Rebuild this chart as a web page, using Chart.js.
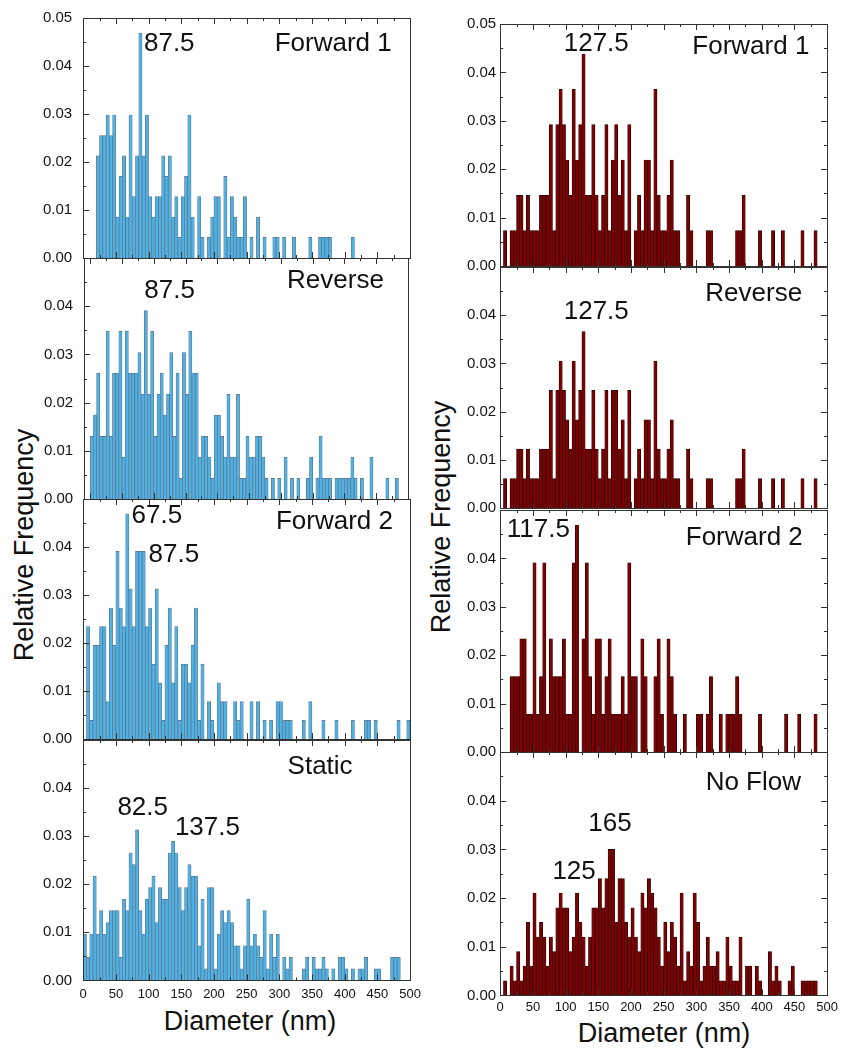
<!DOCTYPE html>
<html>
<head>
<meta charset="utf-8">
<script src="https://cdn.jsdelivr.net/npm/chart.js@4.4.1/dist/chart.umd.min.js"></script>
<style>
body { margin: 0; background: #fff; }
#page { position: relative; width: 843px; height: 1049px; overflow: hidden; font-family: 'Liberation Sans', Arial, sans-serif; color: #111; }
#page canvas { position: absolute; }
.title { position: absolute; font-size: 27px; white-space: nowrap; transform: translate(-50%, -50%); }
.ytitle { transform: translate(-50%, -50%) rotate(-90deg); }
</style>
</head>
<body>
<div id="page">
  <div class="title ytitle" style="left:24px; top:545px;">Relative Frequency</div>
  <div class="title ytitle" style="left:441px; top:517px;">Relative Frequency</div>
  <div class="title" style="left:250px; top:1021px;">Diameter (nm)</div>
  <div class="title" style="left:664px; top:1033px;">Diameter (nm)</div>
</div>
<script>
// 5 nm bins, 0-500 nm (bin centres)
var diameterBins = [];
for (var i = 0; i < 100; i++) diameterBins.push(i * 5 + 2.5);

var xTickLabels = [0, 50, 100, 150, 200, 250, 300, 350, 400, 450, 500];
var yTickLabels = ['0.00', '0.01', '0.02', '0.03', '0.04', '0.05'];

// relative frequency per bin
var leftForward1 = [
  0, 0, 0, 0, .0213, .0255, .0255, .0298, .0255, .0298,
  .0085, .017, .0213, .0085, .0298, .0128, .0213, .0468, .0213, .0298,
  .0128, .0085, .0128, .0128, .0213, .017, .0213, .0085, .0128, .0043,
  .0128, .017, .0298, .0085, 0, .0128, .0043, 0, .0043, .0085,
  .0128, .0128, 0, .017, .0043, .0128, .0085, .0043, .0043, .0128,
  0, .0043, 0, .0085, 0, .0043, 0, 0, .0043, .0043,
  0, .0043, 0, 0, .0043, 0, 0, 0, 0, .0043,
  0, 0, .0043, .0043, .0043, .0043, 0, 0, 0, 0,
  0, 0, .0043, 0, 0, 0, 0, 0, 0, 0,
  0, 0, 0, 0, 0, 0, 0, 0, 0, 0
];
var leftReverse = [
  .013, .0174, .0261, .013, .013, .0348, .013, .0261, .0261, .0348,
  .0087, .0348, .0261, .0261, .0261, .0304, .0217, .0391, .0217, .0348,
  .013, .0217, .0261, .0174, .0217, .0304, .013, .0261, .0043, .0304,
  .0217, .0348, .0261, .0261, .0087, .013, .013, .0087, .0043, .0174,
  .0174, .013, .0087, .0217, .0087, .0087, .0217, .0043, .0043, .013,
  .0087, .0087, .013, .013, .0087, .0043, 0, .0043, 0, .0043,
  0, .0087, 0, .0043, 0, .0043, 0, 0, .0043, .0087,
  0, .0043, .013, .0043, .0043, .0043, 0, .0043, .0043, .0043,
  .0043, .0043, .0087, .0043, 0, .0043, 0, 0, .0087, 0,
  0, 0, 0, .0043, 0, 0, .0043, 0, 0, 0
];
var leftForward2 = [
  0, .0234, .0039, .0195, .0195, .0234, .0234, .0078, .0273, .0195,
  .0391, .0273, .0234, .0469, .0313, .0234, .0391, .0391, .0391, .0234,
  .0273, .0156, .0313, .0117, .0039, .0195, .0273, .0117, .0234, .0039,
  .0156, .0156, .0117, .0195, .0273, .0039, .0156, 0, .0078, .0039,
  0, .0117, .0078, .0078, 0, 0, .0078, .0039, .0078, 0,
  0, .0078, 0, .0078, 0, .0039, 0, .0039, 0, .0078,
  .0078, .0039, .0039, .0039, 0, 0, 0, .0039, 0, .0078,
  0, 0, 0, .0039, 0, 0, 0, .0039, 0, 0,
  0, 0, .0039, 0, 0, 0, .0039, .0039, 0, .0039,
  0, 0, 0, 0, 0, 0, .0039, 0, 0, .0039
];
var leftStatic = [
  .0096, .0048, .0096, .0217, .0096, .0145, .0096, .012, .0145, .0145,
  .0145, .0048, .0169, .0145, .0265, .0241, .0313, .0145, .0096, .0169,
  .0193, .0217, .012, .0193, .0169, .0169, .0265, .0289, .0265, .0193,
  .0145, .0193, .0241, .0217, .0217, .0072, .0169, .0024, .0193, .0193,
  .0024, .0096, .0145, .012, .0145, .012, .0072, .0072, .0024, .0072,
  .0169, .0072, .0096, .0072, .0048, .0145, .0024, .0096, .0048, .0096,
  0, .0048, .0024, .0048, 0, 0, 0, .0024, .0048, 0,
  .0048, .0024, .0024, .0048, .0024, 0, .0024, 0, .0048, .0048,
  .0024, 0, .0024, 0, .0024, .0024, .0048, 0, 0, .0024,
  .0024, 0, 0, 0, .0048, .0048, .0048, 0, 0, 0
];
var rightForward1 = [
  0, .0073, 0, .0073, .0073, .0146, .0146, .0073, .0146, .0073,
  .0073, .0073, .0146, .0146, .0146, .0292, .0073, .0292, .0365, .0292,
  .0219, .0146, .0365, .0219, .0292, .0438, .0146, .0146, .0292, .0146,
  .0073, .0146, .0292, .0073, .0219, .0292, .0146, .0219, .0073, .0292,
  0, .0073, .0146, .0073, .0219, .0219, .0073, .0365, .0146, .0073,
  .0073, .0146, .0219, .0073, .0073, 0, 0, .0146, .0073, 0,
  0, 0, 0, .0073, .0073, 0, 0, 0, 0, 0,
  0, 0, .0073, .0073, .0146, 0, 0, 0, 0, .0073,
  0, 0, 0, .0073, 0, 0, .0073, 0, 0, 0,
  0, 0, .0073, 0, 0, 0, .0073, 0, 0, 0
];
var rightReverse = [
  0, .0061, 0, .0061, .0061, .0122, .0122, .0061, .0122, .0061,
  .0061, .0061, .0122, .0122, .0122, .0244, .0061, .0244, .0305, .0244,
  .0183, .0122, .0305, .0183, .0244, .0366, .0122, .0122, .0244, .0122,
  .0061, .0122, .0244, .0061, .0244, .0244, .0122, .0183, .0061, .0244,
  0, .0061, .0122, .0061, .0183, .0183, .0061, .0305, .0122, .0061,
  .0061, .0122, .0183, .0061, .0061, 0, 0, .0122, .0061, 0,
  0, 0, 0, .0061, .0061, 0, 0, 0, 0, 0,
  0, 0, .0061, .0061, .0122, 0, 0, 0, 0, .0061,
  0, 0, 0, .0061, 0, 0, .0061, 0, 0, 0,
  0, 0, .0061, 0, 0, 0, .0061, 0, 0, 0
];
var rightForward2 = [
  0, 0, 0, .0156, .0156, .0156, .0234, .0234, .0078, .0078,
  .0391, .0078, .0156, .0391, .0078, .0234, .0156, .0156, .0156, .0234,
  .0078, .0078, .0391, .0469, 0, .0234, .0391, .0156, .0078, .0234,
  .0234, .0078, .0156, .0234, .0078, .0078, .0078, .0156, .0078, .0391,
  .0156, .0156, 0, .0234, .0156, 0, 0, .0156, .0234, .0078,
  0, .0234, .0156, .0078, 0, 0, .0078, 0, 0, 0,
  .0078, .0078, 0, .0078, .0156, 0, 0, .0078, 0, .0078,
  .0078, .0078, .0156, .0078, 0, 0, 0, 0, 0, .0078,
  0, 0, 0, 0, 0, 0, 0, .0078, 0, 0,
  0, .0078, 0, 0, 0, 0, .0078, 0, 0, 0
];
var rightNoFlow = [
  0, .003, 0, .006, .003, .009, .003, .006, .015, .006,
  .021, .012, .015, .012, .006, .012, .009, .018, .021, .018,
  .018, .009, .012, .021, .015, .012, .006, .012, .018, .018,
  .024, .018, .024, .030, .030, .015, .024, .024, .015, .012,
  .018, .012, .009, .021, .018, .024, .021, .018, .012, .006,
  .015, .009, .015, .012, .006, .021, .003, .009, .006, .021,
  .015, .003, .006, .012, .006, .006, .009, .003, .003, .012,
  .006, .003, .003, .012, 0, .006, .006, 0, .006, .003,
  0, 0, .009, .003, .006, .003, 0, 0, .003, .006,
  0, 0, .003, .003, .003, .003, .003, 0, 0, 0
];

var blueBars = { fill: '#4fb2e6', line: '#5d7283' };
var redBars = { fill: '#7e0000', line: '#220000' };

Chart.defaults.font.family = "'Liberation Sans', Arial, sans-serif";
Chart.defaults.color = '#111';

// box around each plot with inward ticks
var framePlugin = {
  id: 'frame',
  afterDatasetsDraw: function (chart, args, opts) {
    var a = chart.chartArea, ctx = chart.ctx;
    var xs = chart.scales.x, ys = chart.scales.y;
    ctx.save();
    ctx.strokeStyle = '#333';
    ctx.lineWidth = 1;
    ctx.strokeRect(Math.round(a.left) + 0.5, Math.round(a.top) + 0.5,
      Math.round(a.right - a.left), Math.round(a.bottom - a.top));
    ctx.beginPath();
    ys.ticks.forEach(function (t) {
      var py = Math.round(ys.getPixelForValue(t.value)) + 0.5;
      var len = Math.round(t.value * 1000) % 10 === 0 ? 6 : 3;
      ctx.moveTo(a.left, py); ctx.lineTo(a.left + len, py);
      if (opts.mirror) { ctx.moveTo(a.right, py); ctx.lineTo(a.right - len, py); }
    });
    xs.ticks.forEach(function (t) {
      var px = Math.round(xs.getPixelForValue(t.value)) + 0.5;
      var len = t.value % 50 === 0 ? 6 : 3;
      ctx.moveTo(px, a.bottom); ctx.lineTo(px, a.bottom - len);
      ctx.moveTo(px, a.top); ctx.lineTo(px, a.top + len);
    });
    ctx.stroke();
    ctx.restore();
  }
};

// peak values and panel names
var notesPlugin = {
  id: 'notes',
  afterDraw: function (chart, args, opts) {
    var ctx = chart.ctx, xs = chart.scales.x, ys = chart.scales.y;
    ctx.save();
    ctx.font = "26px 'Liberation Sans', Arial, sans-serif";
    ctx.fillStyle = '#111';
    ctx.textBaseline = 'middle';
    (opts.items || []).forEach(function (n) {
      ctx.textAlign = n.align || 'center';
      ctx.fillText(n.text, xs.getPixelForValue(n.x), ys.getPixelForValue(n.y));
    });
    ctx.restore();
  }
};

var panels = [
  { values: leftForward1, colors: blueBars, col: 0, left: 83, right: 410, top: 18, bottom: 258, xMin: 0, first: true,
    notes: [{ text: '87.5', x: 93, y: 0.0447, align: 'left' }, { text: 'Forward 1', x: 472, y: 0.0447, align: 'right' }] },
  { values: leftReverse, colors: blueBars, col: 0, left: 84, right: 408, top: 258, bottom: 499, xMin: -9.5,
    notes: [{ text: '87.5', x: 125, y: 0.0431 }, { text: 'Reverse', x: 462, y: 0.0452, align: 'right' }] },
  { values: leftForward2, colors: blueBars, col: 0, left: 83, right: 410, top: 499, bottom: 739, xMin: 0,
    notes: [{ text: '67.5', x: 74, y: 0.0464, align: 'left' }, { text: '87.5', x: 100, y: 0.0384, align: 'left' },
            { text: 'Forward 2', x: 474, y: 0.0453, align: 'right' }] },
  { values: leftStatic, colors: blueBars, col: 0, left: 83, right: 410, top: 740, bottom: 980, xMin: 0, last: true,
    notes: [{ text: 'Static', x: 412, y: 0.0444, align: 'right' }, { text: '82.5', x: 91, y: 0.0358 },
            { text: '137.5', x: 190, y: 0.0318 }] },
  { values: rightForward1, colors: redBars, col: 1, left: 500, right: 827, top: 24, bottom: 266, xMin: 0, first: true,
    notes: [{ text: '127.5', x: 147, y: 0.046 }, { text: 'Forward 1', x: 473, y: 0.0452, align: 'right' }] },
  { values: rightReverse, colors: redBars, col: 1, left: 500, right: 827, top: 267, bottom: 508, xMin: 0,
    notes: [{ text: '127.5', x: 147, y: 0.0408 }, { text: 'Reverse', x: 462, y: 0.0444, align: 'right' }] },
  { values: rightForward2, colors: redBars, col: 1, left: 500, right: 827, top: 510, bottom: 752, xMin: 0,
    notes: [{ text: '117.5', x: 10, y: 0.046, align: 'left' }, { text: 'Forward 2', x: 463, y: 0.0442, align: 'right' }] },
  { values: rightNoFlow, colors: redBars, col: 1, left: 500, right: 827, top: 752, bottom: 995, xMin: 0, last: true,
    notes: [{ text: 'No Flow', x: 460, y: 0.0437, align: 'right' }, { text: '165', x: 168, y: 0.0352 },
            { text: '125', x: 113, y: 0.0254 }] }
];

function makePanel(p) {
  var page = document.getElementById('page');
  var w = p.right - p.left + 100;
  var h = p.bottom - p.top + 60;
  var cv = document.createElement('canvas');
  cv.width = w; cv.height = h;
  cv.style.width = w + 'px';
  cv.style.height = h + 'px';
  page.appendChild(cv);

  var points = p.values.map(function (v, i) { return { x: diameterBins[i], y: v }; });

  var chart = new Chart(cv.getContext('2d'), {
    type: 'bar',
    data: {
      datasets: [{
        data: points,
        backgroundColor: p.colors.fill,
        borderColor: p.colors.line,
        borderWidth: 0.7,
        barPercentage: 1,
        categoryPercentage: 1
      }]
    },
    options: {
      responsive: false,
      maintainAspectRatio: false,
      animation: false,
      devicePixelRatio: 1,
      layout: { padding: { top: 10, right: 12, left: 0, bottom: 2 } },
      plugins: {
        legend: { display: false },
        tooltip: { enabled: false },
        frame: { mirror: p.col === 1 },
        notes: { items: p.notes }
      },
      scales: {
        x: {
          type: 'linear',
          min: p.xMin,
          max: 500,
          offset: false,
          grid: { display: false, drawTicks: false },
          border: { display: false },
          ticks: {
            display: !!p.last,
            stepSize: 25,
            includeBounds: false,
            autoSkip: false,
            maxRotation: 0,
            padding: p.col === 0 ? 6 : 4,
            font: { size: 13 },
            callback: function (v) { return xTickLabels.indexOf(v) >= 0 ? String(v) : ''; }
          }
        },
        y: {
          min: 0,
          max: 0.05,
          grid: { display: false, drawTicks: false },
          border: { display: false },
          ticks: {
            stepSize: 0.005,
            autoSkip: false,
            padding: p.col === 0 ? 11 : 4,
            font: { size: 15 },
            callback: function (v) {
              var r = Math.round(v * 1000);
              if (r % 10 !== 0) return '';
              if (r === 50 && !p.first) return '';
              return yTickLabels[r / 10];
            }
          }
        }
      }
    },
    plugins: [framePlugin, notesPlugin]
  });

  // size the canvas so the plot box has the wanted size, then put it in place
  var a = chart.chartArea;
  var dw = Math.round((p.right - p.left) - (a.right - a.left));
  var dh = Math.round((p.bottom - p.top) - (a.bottom - a.top));
  if (dw !== 0 || dh !== 0) chart.resize(w + dw, h + dh);
  a = chart.chartArea;
  cv.style.left = Math.round(p.left - a.left) + 'px';
  cv.style.top = Math.round(p.top - a.top) + 'px';
}

panels.forEach(makePanel);
</script>
</body>
</html>
